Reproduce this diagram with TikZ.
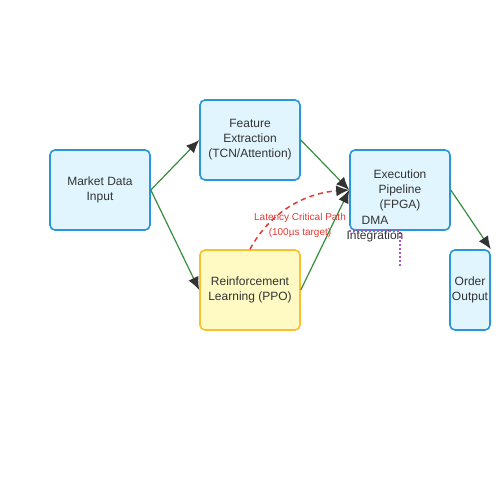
\documentclass[tikz,border=0pt]{standalone}
\usepackage{fontspec}
\setmainfont{Liberation Sans}
\usetikzlibrary{arrows.meta}
\definecolor{boxfill}{HTML}{E1F5FE}
\definecolor{boxline}{HTML}{2B96D6}
\definecolor{rlfill}{HTML}{FFF9C4}
\definecolor{rlline}{HTML}{FBC02D}
\definecolor{flowgreen}{HTML}{388E3C}
\definecolor{latred}{HTML}{E53935}
\definecolor{dmapurple}{HTML}{9C27B0}
\definecolor{txt}{HTML}{333333}
\tikzset{
  stage/.style={draw=boxline, fill=boxfill, line width=1.6pt, rounded corners=5pt,
    minimum width=100pt, minimum height=80pt, inner sep=2pt, align=center,
    text=txt, font=\fontsize{12}{15}\selectfont},
  rlstage/.style={stage, draw=rlline, fill=rlfill},
  flow/.style={draw=flowgreen, line width=1.2pt, -{Latex[length=13pt,width=11pt,color=txt]}},
  latency/.style={draw=latred, line width=1.5pt, dash pattern=on 5pt off 4pt,
    -{Latex[length=13pt,width=11pt,color=txt]}},
  dma/.style={draw=dmapurple!80, line width=1.5pt, dash pattern=on 2pt off 2pt}
}
\begin{document}
\begin{tikzpicture}[x=1pt, y=-1pt]
\useasboundingbox (0,0) rectangle (500,500);
% stages
\node[stage] (market) at (100,190) {Market Data\\Input};
\node[stage] (feature) at (250,140) {Feature\\Extraction\\(TCN/Attention)};
\node[rlstage] (rl) at (250,290) {Reinforcement\\Learning (PPO)};
\node[stage] (exec) at (400,190) {Execution\\Pipeline\\(FPGA)};
\node[stage, minimum width=40pt] (order) at (470,290) {Order\\Output};
% data flow
\draw[flow] (market.east) -- (feature.west);
\draw[flow] (market.east) -- (rl.west);
\draw[flow] (feature.east) -- (exec.west);
\draw[flow] (rl.east) -- (exec.west);
\draw[flow] (exec.east) -- (order.north east);
% latency critical path
\draw[latency] (rl.north) .. controls (270,212) and (305,193) .. (exec.west);
\node[text=latred, font=\fontsize{10}{15}\selectfont, align=center] (latlabel) at (300,225) {Latency Critical Path\\(100µs target)};
% dma
\coordinate (dmaend) at (400,267);
\draw[dma] (exec.south west) -- (exec.south) -- (dmaend);
\node[text=txt, font=\fontsize{12}{15}\selectfont, align=center] (dmalabel) at (375,229) {DMA\\Integration};
\end{tikzpicture}
\end{document}
